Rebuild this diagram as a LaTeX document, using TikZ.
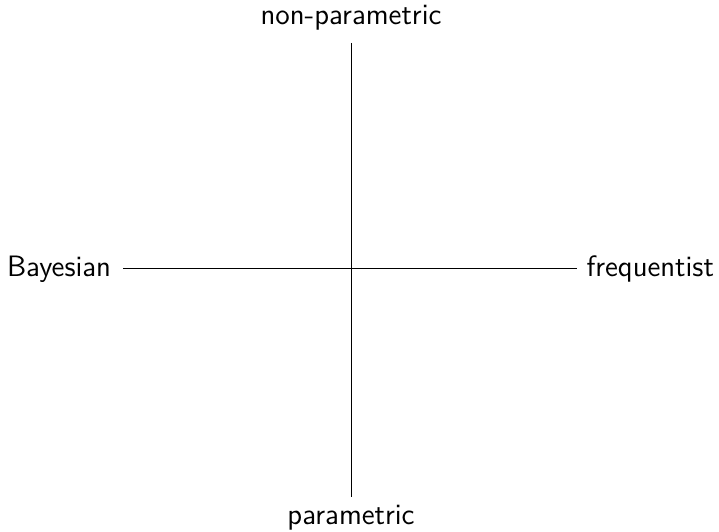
\documentclass[tikz,border=0pt]{standalone}
\begin{document}
\begin{tikzpicture}[x=0.4pt,y=-0.4pt,
  lbl/.style={font=\sffamily\fontsize{11.8}{14.2}\selectfont, inner sep=0pt},
  axis/.style={draw=black, line width=0.4pt}]
\useasboundingbox (0,0) rectangle (719,532);
\node[lbl, inner ysep=4.8pt, anchor=south] (top) at (351,43) {non-parametric};
\node[lbl, inner ysep=3pt, anchor=north] (bot) at (351,497) {parametric};
\node[lbl, inner xsep=4.6pt, anchor=east] (left) at (123,269) {Bayesian};
\node[lbl, inner xsep=3.6pt, anchor=west] (right) at (577,269) {frequentist};
\draw[axis] (top.south) -- (bot.north);
\draw[axis] (left.east) -- (right.west);
\end{tikzpicture}
\end{document}
